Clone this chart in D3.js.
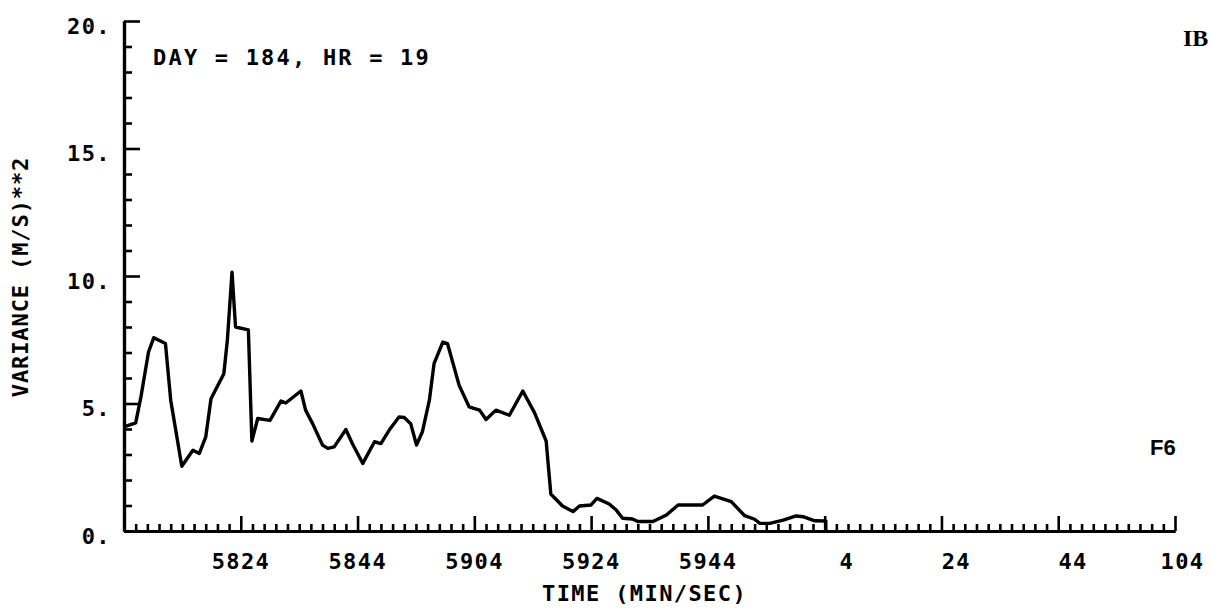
<!DOCTYPE html>
<html>
<head>
<meta charset="utf-8">
<script src="https://cdn.jsdelivr.net/npm/d3@7"></script>
<style>
  html, body { margin: 0; padding: 0; background: #fff; }
  svg { display: block; }
  .plotfont { font-family: "DejaVu Sans Mono", monospace; font-weight: bold; font-size: 22px; fill: #000; }
</style>
</head>
<body>
<script>
// ---- data (seconds after 58:04, variance (m/s)^2) ----
const seconds = [0, 2.0, 2.9, 4.2, 5.1, 7.1, 8.0, 9.9, 11.8, 12.9, 14.0, 14.9, 17.1, 17.7, 18.5, 19.1,
  21.3, 21.9, 22.9, 25.0, 26.9, 27.7, 30.3, 31.1, 32.3, 34.0, 34.9, 36.0, 38.0, 39.1, 40.9, 42.9,
  44.0, 45.4, 47.1, 48.0, 49.1, 50.1, 51.1, 52.3, 53.1, 54.6, 55.4, 57.4, 59.1, 60.9, 62.0, 63.7,
  66.0, 68.3, 70.3, 72.3, 73.1, 75.1, 76.9, 78.0, 80.0, 81.0, 83.1, 84.3, 85.4, 87.1, 88.0, 90.6,
  92.9, 94.9, 99.1, 101.1, 104.0, 106.3, 108.0, 108.9, 110.6, 112.9, 115.1, 116.3, 118.3, 120.2, 120.2];
const variance = [4.08, 4.24, 5.26, 7.02, 7.58, 7.35, 5.13, 2.54, 3.17, 3.04, 3.69, 5.19, 6.17, 7.48, 10.15, 8.0,
  7.89, 3.53, 4.41, 4.34, 5.10, 5.02, 5.49, 4.74, 4.21, 3.37, 3.24, 3.30, 3.98, 3.43, 2.65, 3.50,
  3.43, 3.95, 4.47, 4.45, 4.21, 3.37, 3.89, 5.13, 6.56, 7.41, 7.35, 5.71, 4.87, 4.74, 4.37, 4.74,
  4.54, 5.49, 4.64, 3.53, 1.45, 0.98, 0.76, 0.98, 1.02, 1.28, 1.06, 0.82, 0.50, 0.47, 0.37, 0.37,
  0.63, 1.02, 1.02, 1.37, 1.15, 0.60, 0.46, 0.30, 0.30, 0.43, 0.59, 0.56, 0.40, 0.39, 0];

const xMajorTicks = [0, 20, 40, 60, 80, 100, 120, 140, 160, 180];
const xTickLabels = ["", "5824", "5844", "5904", "5924", "5944", "4", "24", "44", "104"];
const yMajorTicks = [0, 5, 10, 15, 20];
const yTickLabels = ["0.", "5.", "10.", "15.", "20."];

const title = "DAY = 184, HR = 19";
const xTitle = "TIME (MIN/SEC)";
const yTitle = "VARIANCE (M/S)**2";
const cornerTag = "IB";
const frameTag = "F6";

// ---- layout ----
const W = 1211, H = 610;
const svg = d3.select("body").append("svg").attr("width", W).attr("height", H);
svg.append("rect").attr("width", W).attr("height", H).attr("fill", "#fff");

const x = d3.scaleLinear().domain([0, 180]).range([124, 1175]);
const y = d3.scaleLinear().domain([0, 20]).range([531, 21]);

function styleAxis(g) {
  g.selectAll("path.domain").attr("stroke", "#000").attr("stroke-width", 3.2);
  g.selectAll(".tick line").attr("stroke", "#000").attr("stroke-width", 2.6);
}

// minor y ticks
const yMinor = d3.range(0, 21).filter(d => d % 5 !== 0);
svg.append("g").attr("transform", `translate(${x(0)},0)`)
  .call(d3.axisLeft(y).tickValues(yMinor).tickSize(-8).tickSizeOuter(0).tickFormat(""))
  .call(styleAxis);

// major y ticks
const gy = svg.append("g").attr("transform", `translate(${x(0)},0)`)
  .call(d3.axisLeft(y).tickValues(yMajorTicks).tickSize(-16).tickSizeOuter(0).tickPadding(13)
    .tickFormat((d, i) => yTickLabels[i]))
  .call(styleAxis);
gy.selectAll("text").attr("class", "plotfont").attr("dy", "0.55em").style("letter-spacing", "1.4px");

// minor x ticks
const xMinor = d3.range(0, 181, 2).filter(d => d % 20 !== 0);
svg.append("g").attr("transform", `translate(0,${y(0)})`)
  .call(d3.axisBottom(x).tickValues(xMinor).tickSize(-7).tickSizeOuter(0).tickFormat(""))
  .call(styleAxis);

// major x ticks
const gx = svg.append("g").attr("transform", `translate(0,${y(0)})`)
  .call(d3.axisBottom(x).tickValues(xMajorTicks).tickSize(-15).tickSizeOuter(0)
    .tickFormat((d, i) => xTickLabels[i]))
  .call(styleAxis);
gx.selectAll("text").attr("class", "plotfont")
  .attr("text-anchor", "end").attr("x", 29).attr("y", 38).attr("dy", 0)
  .style("letter-spacing", "1.4px");

// data line
const pts = seconds.map((s, i) => [s, variance[i]]);
svg.append("path")
  .datum(pts)
  .attr("fill", "none")
  .attr("stroke", "#000")
  .attr("stroke-width", 3.4)
  .attr("stroke-linejoin", "round")
  .attr("d", d3.line().x(d => x(d[0])).y(d => y(d[1])));

// texts
svg.append("text").attr("class", "plotfont").attr("x", 153).attr("y", 65)
  .style("letter-spacing", "2.2px").text(title);

svg.append("text").attr("class", "plotfont").attr("x", 542).attr("y", 601)
  .style("letter-spacing", "1.4px").text(xTitle);

svg.append("text").attr("class", "plotfont")
  .attr("transform", "translate(28,277) rotate(-90)")
  .attr("text-anchor", "middle")
  .style("letter-spacing", "0.9px").text(yTitle);

svg.append("text").attr("x", 1183).attr("y", 46)
  .attr("font-family", "Liberation Serif").attr("font-weight", "bold").attr("font-size", 24)
  .text(cornerTag);

svg.append("text").attr("x", 1150).attr("y", 455)
  .attr("font-family", "Liberation Sans").attr("font-weight", "bold").attr("font-size", 22)
  .text(frameTag);
</script>
</body>
</html>
